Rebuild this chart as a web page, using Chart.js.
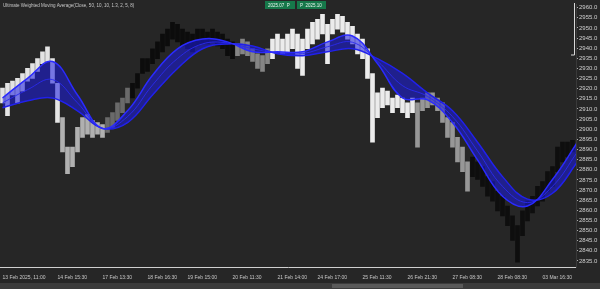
<!DOCTYPE html>
<html>
<head>
<meta charset="utf-8">
<script src="https://cdn.jsdelivr.net/npm/chart.js@4.4.1/dist/chart.umd.min.js"></script>
<style>
  html, body { margin: 0; padding: 0; background: #262626; }
  #wrap { width: 600px; height: 289px; }
</style>
</head>
<body>
<div id="wrap"><canvas id="priceChart" width="600" height="289"></canvas></div>
<script>
// XAUUSD bars, high/low per bar
var barHigh = [
  2920.3, 2922.7, 2923.7, 2925.1, 2927.5, 2930.0, 2932.4, 2934.8, 2938.2, 2940.6,
  2934.8, 2922.7, 2905.7, 2891.2, 2891.2, 2900.9, 2905.7, 2907.2, 2904.3, 2903.3,
  2902.3, 2905.7, 2908.2, 2913.0, 2915.4, 2920.3, 2922.7, 2927.5, 2934.8, 2934.8,
  2939.7, 2943.1, 2947.0, 2949.4, 2952.8, 2951.8, 2949.4, 2947.9, 2947.0, 2949.4,
  2949.4, 2947.9, 2949.4, 2947.9, 2947.0, 2944.5, 2943.1, 2942.1, 2944.5, 2943.1,
  2939.7, 2937.2, 2936.3, 2939.7, 2944.5, 2947.0, 2944.5, 2947.0, 2949.4, 2947.0,
  2944.5, 2949.4, 2952.8, 2954.2, 2956.7, 2951.8, 2954.2, 2956.7, 2955.7, 2952.8,
  2950.8, 2947.0, 2944.5, 2939.7, 2927.5, 2917.9, 2920.3, 2918.8, 2915.4, 2916.9,
  2915.4, 2913.0, 2915.4, 2913.0, 2915.4, 2917.9, 2917.9, 2915.4, 2913.0, 2905.7,
  2903.3, 2896.0, 2891.2, 2883.9, 2886.3, 2883.9, 2881.5, 2876.6, 2874.1, 2869.4,
  2866.9, 2862.1, 2857.2, 2852.4, 2859.7, 2864.5, 2866.9, 2871.8, 2874.1, 2879.1,
  2881.5, 2891.2, 2893.6, 2893.6, 2894.5
];
var barLow = [
  2913.0, 2906.7, 2916.9, 2913.0, 2918.8, 2923.7, 2925.1, 2928.5, 2932.4, 2933.4,
  2922.7, 2903.3, 2888.8, 2878.1, 2881.5, 2888.8, 2896.0, 2897.5, 2896.0, 2897.5,
  2896.0, 2898.4, 2900.9, 2904.3, 2908.2, 2913.0, 2915.4, 2920.3, 2927.5, 2928.5,
  2932.4, 2934.8, 2938.2, 2941.1, 2944.5, 2943.1, 2941.1, 2939.7, 2938.2, 2941.1,
  2942.1, 2942.1, 2943.1, 2941.1, 2939.7, 2936.3, 2934.8, 2936.3, 2937.2, 2936.3,
  2933.4, 2930.0, 2928.5, 2932.4, 2934.8, 2938.2, 2937.2, 2938.2, 2939.7, 2930.0,
  2926.6, 2939.7, 2942.1, 2944.5, 2947.0, 2932.4, 2947.0, 2949.4, 2947.9, 2944.5,
  2942.1, 2937.2, 2934.8, 2925.1, 2893.6, 2905.7, 2910.6, 2912.0, 2908.2, 2910.6,
  2908.2, 2905.7, 2908.2, 2891.2, 2909.1, 2910.6, 2912.0, 2909.1, 2903.3, 2896.0,
  2891.2, 2883.9, 2879.1, 2869.4, 2876.6, 2875.2, 2871.8, 2866.9, 2864.5, 2859.7,
  2857.2, 2852.4, 2845.1, 2834.4, 2847.5, 2854.8, 2858.7, 2862.1, 2864.5, 2869.4,
  2871.8, 2879.1, 2883.9, 2886.3, 2888.8
];

// moving average ribbon, sampled every 5 bars
var maBar  = [0, 5, 10, 15, 20, 25, 30, 35, 40, 45, 50, 55, 60, 65, 70, 75, 80, 85, 90, 95, 100, 105, 110, 115];
var maFast = [2915.4, 2925.1, 2933.4, 2916.9, 2900.4, 2909.1, 2926.6, 2939.7, 2944.5, 2943.1, 2938.2, 2938.2,
              2938.2, 2943.1, 2946.0, 2932.4, 2915.4, 2914.5, 2903.3, 2884.9, 2866.9, 2862.1, 2875.2, 2893.6];
var maMid  = [2913.0, 2919.5, 2924.5, 2913.0, 2900.4, 2906.2, 2921.8, 2934.9, 2942.1, 2942.6, 2939.7, 2937.7,
              2937.3, 2940.7, 2942.9, 2933.6, 2921.5, 2916.2, 2906.2, 2889.3, 2871.8, 2863.8, 2871.8, 2888.8];
var maSlow = [2910.6, 2914.0, 2915.4, 2909.1, 2900.4, 2903.3, 2916.9, 2930.0, 2939.7, 2942.1, 2941.1, 2937.2,
              2936.3, 2938.2, 2939.7, 2934.8, 2927.5, 2917.9, 2909.1, 2893.6, 2876.6, 2865.5, 2868.4, 2883.9];

var priceTicks = [2960, 2955, 2950, 2945, 2940, 2935, 2930, 2925, 2920, 2915, 2910, 2905, 2900,
                  2895, 2890, 2885, 2880, 2875, 2870, 2865, 2860, 2855, 2850, 2845, 2840, 2835];
var timeBar = [0, 11, 20, 29, 37, 46, 55, 63, 72, 81, 90, 99, 108];
var timeLabels = ['13 Feb 2025, 11:00', '14 Feb 15:30', '17 Feb 13:30', '18 Feb 16:30', '19 Feb 15:00',
                  '20 Feb 11:30', '21 Feb 14:00', '24 Feb 17:00', '25 Feb 11:30', '26 Feb 21:30',
                  '27 Feb 08:30', '28 Feb 08:30', '03 Mar 16:30'];

function barTone(i) {
    if (i <= 11) return '#e4e4e4';
    if (i <= 20) return '#b0b0b0';
    if (i <= 25) return '#6a6a6a';
    if (i <= 46) return '#0c0c0c';
    if (i <= 53) return '#858585';
    if (i <= 82) return '#ececec';
    if (i <= 93) return '#979797';
    return '#0e0e0e';
}

var bars = barHigh.map(function(h, i) { return { x: i, y: [barLow[i], h] }; });
function maPoints(arr) {
    return arr.map(function(v, k) { return { x: maBar[k], y: v }; });
}

var chrome = {
    id: 'chrome',
    beforeDraw: function(chart) {
        var c = chart.ctx;
        c.save();
        c.fillStyle = '#262626';
        c.fillRect(0, 0, chart.width, chart.height);
        c.fillStyle = '#3b3b3b';
        c.fillRect(0, 283, chart.width, 6);
        c.fillStyle = '#595959';
        c.fillRect(332, 284, 131, 4);
        c.restore();
    },
    afterDraw: function(chart) {
        var c = chart.ctx;
        c.save();
        c.font = '4.5px "Liberation Sans", Arial, sans-serif';
        c.textBaseline = 'middle';
        c.fillStyle = '#c8c8c8';
        c.fillText('Ultimate Weighted Moving Average(Close, 50, 10, 10, 1.3, 2, 5, 8)', 3, 5.5);
        // green time boxes
        c.fillStyle = '#16784a';
        c.fillRect(265, 1, 30, 8);
        c.fillRect(297, 1, 29, 8);
        c.fillStyle = '#e8f5ee';
        c.fillText('2025.07  P', 268, 5.5);
        c.fillText('P  2025.10', 300, 5.5);
        // measure bracket at right edge
        c.strokeStyle = '#d8d8d8';
        c.lineWidth = 1;
        c.beginPath();
        c.moveTo(574.5, 3);
        c.lineTo(574.5, 55);
        c.lineTo(571, 55);
        c.stroke();
        c.restore();
    }
};

var ctx = document.getElementById('priceChart').getContext('2d');
var priceChart = new Chart(ctx, {
    type: 'bar',
    data: {
        datasets: [
            {
                type: 'line',
                data: maPoints(maFast),
                borderColor: '#2a2aff',
                borderWidth: 1.5,
                pointRadius: 0,
                tension: 0.4,
                fill: '+2',
                backgroundColor: 'rgba(28, 28, 225, 0.55)',
                order: 1
            },
            {
                type: 'line',
                data: maPoints(maMid),
                borderColor: 'rgba(60, 60, 255, 0.9)',
                borderWidth: 1,
                pointRadius: 0,
                tension: 0.4,
                fill: false,
                order: 1
            },
            {
                type: 'line',
                data: maPoints(maSlow),
                borderColor: '#2323f0',
                borderWidth: 1.5,
                pointRadius: 0,
                tension: 0.4,
                fill: false,
                order: 1
            },
            {
                data: bars,
                backgroundColor: bars.map(function(b, i) { return barTone(i); }),
                barThickness: 4,
                order: 2
            }
        ]
    },
    options: {
        responsive: false,
        animation: false,
        layout: { padding: 0 },
        plugins: {
            legend: { display: false },
            tooltip: { enabled: false }
        },
        scales: {
            x: {
                type: 'linear',
                offset: false,
                min: -0.5,
                max: 114.7,
                grid: { display: false },
                border: { color: '#d0d0d0', width: 1 },
                afterBuildTicks: function(scale) {
                    scale.ticks = timeBar.map(function(v) { return { value: v }; });
                },
                afterFit: function(scale) { scale.height = 22; },
                ticks: {
                    autoSkip: false,
                    maxRotation: 0,
                    align: 'start',
                    padding: 0,
                    color: '#c8c8c8',
                    font: { size: 5, family: '"Liberation Sans", Arial, sans-serif' },
                    callback: function(v, i) { return timeLabels[i]; }
                }
            },
            y: {
                position: 'right',
                min: 2832,
                max: 2961.5,
                grid: { drawOnChartArea: false, tickLength: 2, color: '#aaaaaa' },
                border: { color: '#3a3a3a' },
                afterBuildTicks: function(scale) {
                    scale.ticks = priceTicks.map(function(v) { return { value: v }; });
                },
                afterFit: function(scale) { scale.width = 24; },
                ticks: {
                    padding: 1,
                    color: '#cfcfcf',
                    font: { size: 6, family: '"Liberation Sans", Arial, sans-serif' },
                    callback: function(v) { return v.toFixed(1); }
                }
            }
        }
    },
    plugins: [chrome]
});
</script>
</body>
</html>
